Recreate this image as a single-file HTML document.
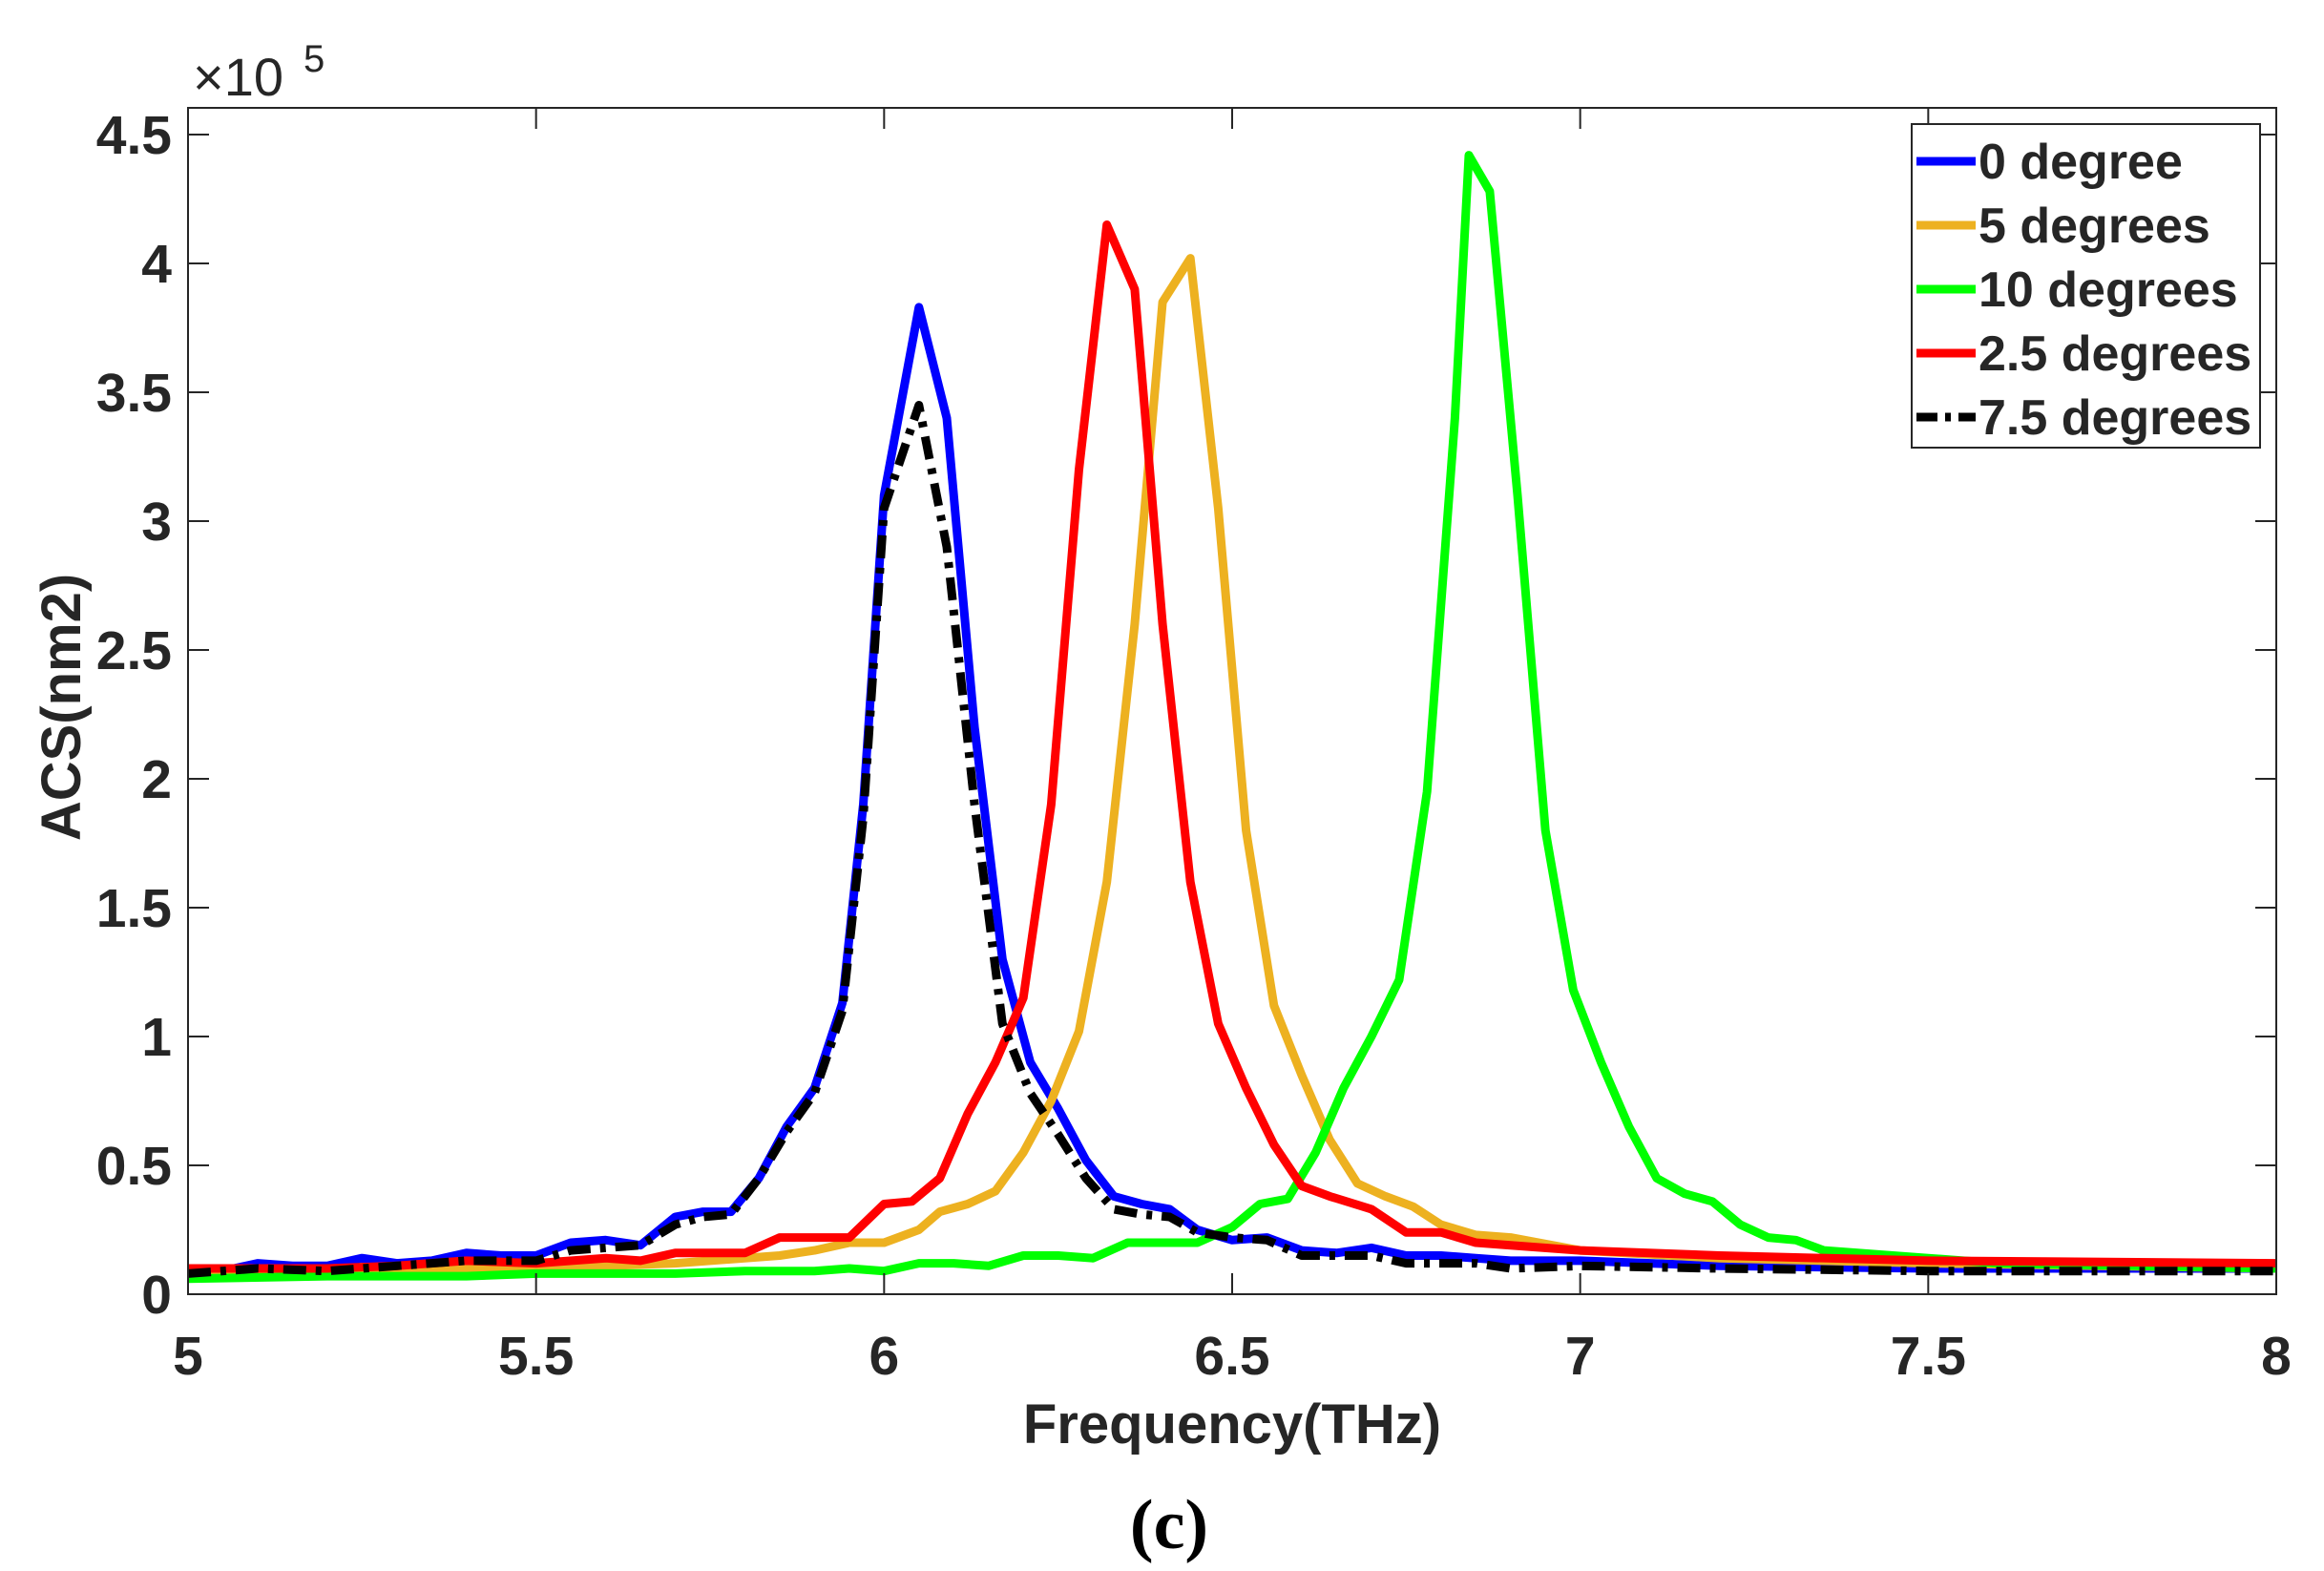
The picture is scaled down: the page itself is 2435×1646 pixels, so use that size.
<!DOCTYPE html>
<html><head><meta charset="utf-8"><style>
html,body{margin:0;padding:0;background:#fff;}
svg{display:block;}
text{font-family:"Liberation Sans",Arial,sans-serif;font-weight:bold;fill:#262626;}
</style></head><body>
<svg id="s" width="2435" height="1646" viewBox="0 0 2435 1646" xmlns="http://www.w3.org/2000/svg">
<rect x="0" y="0" width="2435" height="1646" fill="#fff"/>
<g id="curves" fill="none" stroke-linejoin="round"></g>
<rect x="197" y="113" width="2188" height="1243" fill="none" stroke="#262626" stroke-width="2"/>
<g id="ticks" stroke="#262626" stroke-width="2"></g>
<g id="labels" font-size="57"></g>
<text x="202" y="100" font-size="56" style="font-weight:normal">×10</text>
<text x="318" y="75" font-size="40" style="font-weight:normal">5</text>
<text x="1291" y="1512" font-size="58" text-anchor="middle">Frequency(THz)</text>
<text transform="translate(84,741) rotate(-90)" font-size="58" text-anchor="middle">ACS(nm2)</text>
<text x="1225" y="1622" font-size="74" text-anchor="middle" style="font-family:'Liberation Serif',serif;font-weight:bold;fill:#000">(c)</text>
<rect x="2003" y="130" width="365" height="339" fill="#fff" stroke="#262626" stroke-width="2"/>
<g id="legend" font-size="52"></g>
</svg>
<script>
var X=function(f){return 197+(f-5)/3*2188;},Y=function(v){return 1356-v/4.5*1215;};
var ns="http://www.w3.org/2000/svg";
function el(p,t,a,txt){var e=document.createElementNS(ns,t);for(var k in a)e.setAttribute(k,a[k]);if(txt!=null)e.textContent=txt;document.getElementById(p).appendChild(e);return e;}
for(var i=0;i<=6;i++){var f=5+i*0.5,x=X(f);el('ticks','line',{x1:x,y1:1356,x2:x,y2:1334});el('ticks','line',{x1:x,y1:113,x2:x,y2:135});
el('labels','text',{x:x,y:1440,'text-anchor':'middle'},String(f));}
for(var j=0;j<=9;j++){var v=j*0.5,y=Y(v);el('ticks','line',{x1:197,y1:y,x2:219,y2:y});el('ticks','line',{x1:2385,y1:y,x2:2363,y2:y});
el('labels','text',{x:180,y:y+20,'text-anchor':'end'},String(v));}
var S=[
["#0000ff",null,[[5,.1],[5.05,.09],[5.1,.12],[5.15,.11],[5.2,.11],[5.25,.14],[5.3,.12],[5.35,.13],[5.4,.16],[5.45,.15],[5.5,.15],[5.55,.2],[5.6,.21],[5.65,.19],[5.7,.3],[5.74,.32],[5.78,.32],[5.82,.45],[5.86,.65],[5.9,.8],[5.94,1.13],[5.97,1.9],[6.0,3.1],[6.05,3.83],[6.09,3.4],[6.13,2.2],[6.17,1.3],[6.21,.9],[6.25,.72],[6.29,.52],[6.33,.38],[6.37,.35],[6.41,.33],[6.45,.25],[6.5,.21],[6.55,.22],[6.6,.17],[6.65,.16],[6.7,.18],[6.75,.15],[6.8,.15],[6.85,.14],[6.9,.13],[7,.13],[7.2,.11],[7.5,.1],[8,.1]]],
["#edb120",null,[[5,.09],[5.2,.09],[5.5,.1],[5.7,.12],[5.85,.15],[5.9,.17],[5.95,.2],[6.0,.2],[6.05,.25],[6.08,.32],[6.12,.35],[6.16,.4],[6.2,.55],[6.24,.75],[6.28,1.02],[6.32,1.6],[6.36,2.6],[6.4,3.85],[6.44,4.02],[6.48,3.05],[6.52,1.8],[6.56,1.12],[6.6,.85],[6.64,.6],[6.68,.43],[6.72,.38],[6.76,.34],[6.8,.27],[6.85,.23],[6.9,.22],[7,.17],[7.2,.14],[7.5,.12],[8,.1]]],
["#00ff00",null,[[5,.06],[5.2,.07],[5.4,.07],[5.5,.08],[5.7,.08],[5.8,.09],[5.9,.09],[5.95,.1],[6.0,.09],[6.05,.12],[6.1,.12],[6.15,.11],[6.2,.15],[6.25,.15],[6.3,.14],[6.35,.2],[6.45,.2],[6.5,.26],[6.54,.35],[6.58,.37],[6.62,.55],[6.66,.8],[6.7,1.0],[6.74,1.22],[6.78,1.95],[6.82,3.4],[6.84,4.42],[6.87,4.28],[6.91,3.1],[6.95,1.8],[6.99,1.18],[7.03,.9],[7.07,.65],[7.11,.45],[7.15,.39],[7.19,.36],[7.23,.27],[7.27,.22],[7.31,.21],[7.35,.17],[7.5,.14],[7.6,.12],[8,.1]]],
["#ff0000",null,[[5,.1],[5.1,.1],[5.2,.1],[5.3,.11],[5.4,.13],[5.5,.12],[5.6,.14],[5.65,.13],[5.7,.16],[5.75,.16],[5.8,.16],[5.85,.22],[5.9,.22],[5.95,.22],[6.0,.35],[6.04,.36],[6.08,.45],[6.12,.7],[6.16,.9],[6.2,1.15],[6.24,1.9],[6.28,3.2],[6.32,4.15],[6.36,3.9],[6.4,2.6],[6.44,1.6],[6.48,1.05],[6.52,.8],[6.56,.58],[6.6,.42],[6.64,.38],[6.7,.33],[6.75,.24],[6.8,.24],[6.85,.2],[6.9,.19],[7,.17],[7.2,.15],[7.5,.13],[8,.12]]],
["#000000","24 10 6 10",[[5,.08],[5.1,.1],[5.2,.09],[5.3,.11],[5.4,.13],[5.5,.13],[5.55,.17],[5.6,.18],[5.65,.19],[5.7,.27],[5.74,.3],[5.78,.31],[5.82,.45],[5.86,.63],[5.9,.78],[5.94,1.1],[5.97,1.85],[6.0,3.05],[6.05,3.45],[6.09,2.9],[6.13,1.9],[6.17,1.05],[6.21,.78],[6.25,.62],[6.29,.45],[6.33,.33],[6.37,.31],[6.41,.3],[6.45,.24],[6.5,.22],[6.55,.21],[6.6,.15],[6.65,.15],[6.7,.15],[6.75,.12],[6.8,.12],[6.85,.12],[6.9,.1],[7,.11],[7.2,.1],[7.5,.09],[8,.09]]]];
S.forEach(function(s){var d=s[2].map(function(p,i){return (i?'L':'M')+X(p[0]).toFixed(1)+' '+Y(p[1]).toFixed(1);}).join(' ');
var a={d:d,stroke:s[0],'stroke-width':9};if(s[1])a['stroke-dasharray']=s[1];el('curves','path',a);});
var L=[["#0000ff","0 degree"],["#edb120","5 degrees"],["#00ff00","10 degrees"],["#ff0000","2.5 degrees"],["#000000","7.5 degrees"]];
L.forEach(function(l,i){var y=169+i*67;var a={x1:2008,y1:y,x2:2070,y2:y,stroke:l[0],'stroke-width':9};if(i==4)a['stroke-dasharray']='22 8 6 8';el('legend','line',a);
el('legend','text',{x:2073,y:y+18},l[1]);});
</script>
</body></html>
